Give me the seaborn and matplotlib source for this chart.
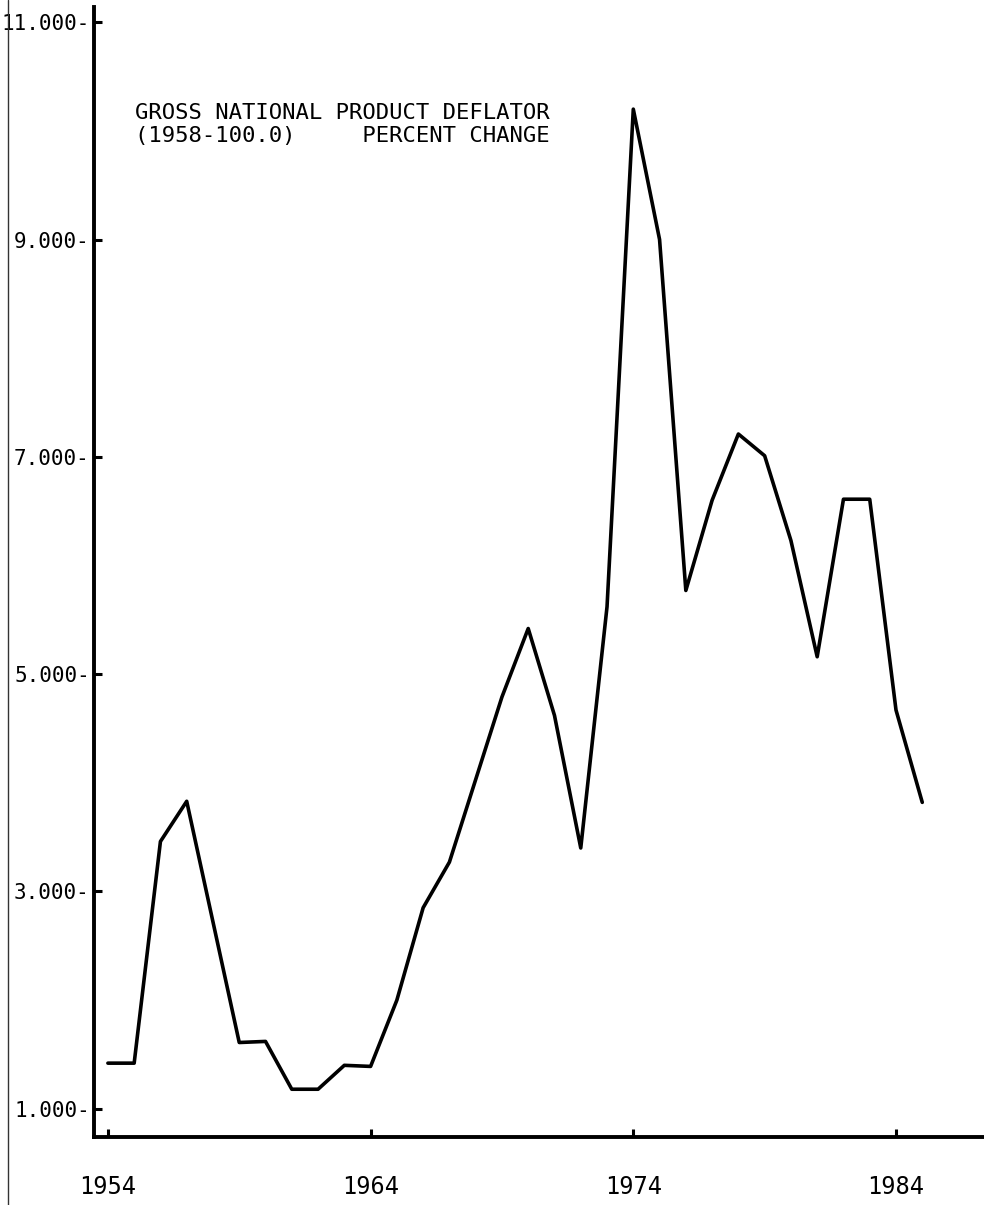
import seaborn as sns
import matplotlib.pyplot as plt
import pandas as pd

# GNP deflator, percent change
years = list(range(1954, 1986))
pct_change = [1.42, 1.42, 3.46, 3.83, 2.72, 1.61, 1.62, 1.18, 1.18, 1.40,
              1.39, 2.00, 2.85, 3.27, 4.03, 4.79, 5.42, 4.62, 3.40, 5.62,
              10.20, 9.00, 5.77, 6.60, 7.21, 7.01, 6.23, 5.16, 6.61, 6.61,
              4.67, 3.82]
y_ticks = [1, 3, 5, 7, 9, 11]
x_ticks = [1954, 1964, 1974, 1984]
title_lines = ["GROSS NATIONAL PRODUCT DEFLATOR",
               "(1958-100.0)     PERCENT CHANGE"]

df = pd.DataFrame({"year": years, "pct": pct_change})

sns.set_style("white")
plt.rcParams['font.family'] = ['DejaVu Sans Mono']
plt.rcParams['text.color'] = 'black'
plt.rcParams['xtick.color'] = 'black'
plt.rcParams['ytick.color'] = 'black'

fig = plt.figure(figsize=(9.84, 12.05), dpi=100)
ax = fig.add_axes([0.0955, 0.0564, 0.9045, 0.9378])

sns.lineplot(data=df, x="year", y="pct", color="black", linewidth=2.6, ax=ax)

ax.set_xlim(1953.47, 1987.35)
ax.set_ylim(0.74, 11.14)

ax.set_yticks(y_ticks)
ax.set_yticklabels([f"{v:.3f}-" for v in y_ticks], fontsize=15)
ax.set_xticks(x_ticks)
ax.set_xticklabels([str(v) for v in x_ticks], fontsize=17)

ax.tick_params(axis='y', left=True, direction='in', length=6, width=2.2, pad=3)
ax.tick_params(axis='x', bottom=True, direction='in', length=6, width=2.2, pad=27)
ax.set_xlabel("")
ax.set_ylabel("")

for side in ["top", "right"]:
    ax.spines[side].set_visible(False)
for side in ["left", "bottom"]:
    ax.spines[side].set_linewidth(2.8)
    ax.spines[side].set_color("black")

fig.text(135 / 984, 1 - 103 / 1205, "\n".join(title_lines), fontsize=16,
         va='top', ha='left', linespacing=1.2)

# thin scan edge on the left
fig.add_artist(plt.Line2D([0.008, 0.008], [0.0, 1.0], transform=fig.transFigure,
                          color="#333333", linewidth=1))

fig.savefig("out.png", dpi=100)
